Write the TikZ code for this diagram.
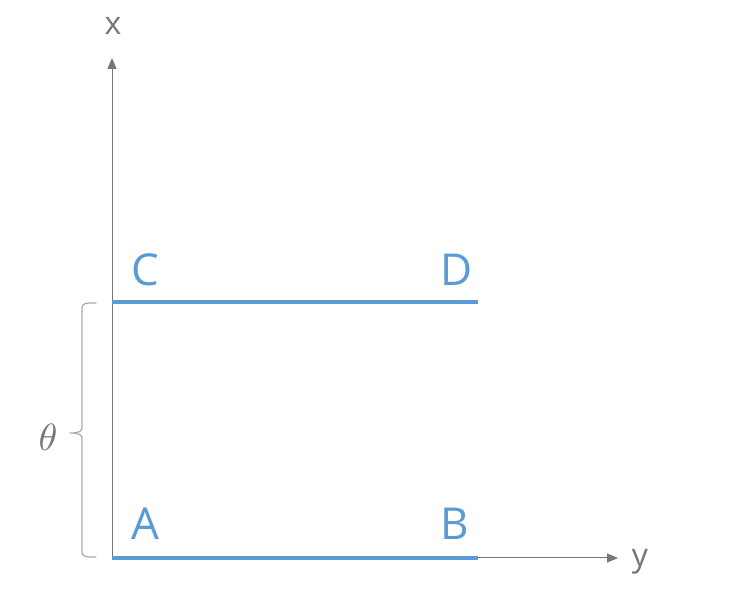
\documentclass[tikz,border=0pt]{standalone}
\usepackage{fontspec}
\setmainfont{Open Sans}
\usetikzlibrary{arrows.meta}

\definecolor{segblue}{RGB}{91,155,213}
\definecolor{axisgray}{RGB}{118,118,118}
\definecolor{bracegray}{RGB}{170,170,170}

\begin{document}
\begin{tikzpicture}[x=1pt, y=-1pt,
  axis/.style={draw=axisgray, line width=1pt, -{Triangle[length=11pt, width=9pt]}},
  seg/.style={draw=segblue, line width=4.5pt},
  lbl/.style={text=segblue, font=\fontsize{44}{46}\selectfont, inner sep=0pt},
  axlbl/.style={text=axisgray, font=\fontsize{32}{34}\selectfont, inner sep=0pt},
]
\useasboundingbox (0,0) rectangle (732,593);

% axes
\coordinate (O) at (112,558);
\coordinate (Xend) at (112,58);
\coordinate (Yend) at (618,558);
\draw[axis] (O) -- (Xend);
\draw[axis] (O) -- (Yend);
\node[axlbl] (xl) at (113,26) {x};
\node[axlbl] (yl) at (640,562) {y};

% segments
\coordinate (a) at (112,558);
\coordinate (b) at (478,558);
\coordinate (c) at (112,302);
\coordinate (d) at (478,302);
\draw[seg] (a) -- (b);
\draw[seg] (c) -- (d);
\node[lbl] (A) at (145,524) {A};
\node[lbl] (B) at (455,524) {B};
\node[lbl] (C) at (145,270) {C};
\node[lbl] (D) at (457,270) {D};

% brace
\coordinate (bt) at (96,303);
\coordinate (bb) at (96,557);
\coordinate (tip) at (70,433);
\draw[bracegray, line width=1.2pt, line cap=round]
  (bt) .. controls (86,303) and (82,303) .. (82,308) -- (82,427)
  .. controls (82,431) and (80,433) .. (tip)
  (tip) .. controls (80,433) and (82,435) .. (82,439) -- (82,552)
  .. controls (82,557) and (86,557) .. (bb);
\node[text=axisgray, scale=3.8, inner sep=0pt] (th) at (48,437) {$\theta$};

\end{tikzpicture}
\end{document}
